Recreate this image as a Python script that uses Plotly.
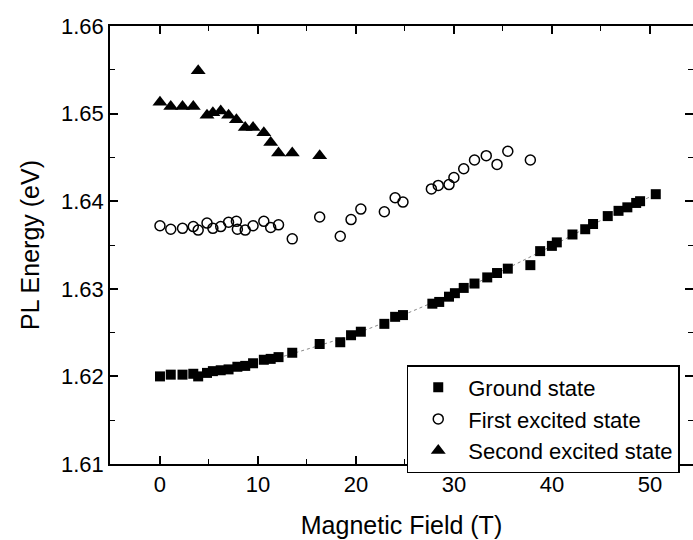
import plotly.graph_objects as go

# Ground state
gs_b = [0, 1.1, 2.3, 3.4, 3.9, 4.8, 5.4, 6.2, 7.0, 7.9, 8.7, 9.5, 10.6, 11.3, 12.1, 13.5,
        16.3, 18.4, 19.5, 20.5, 22.9, 24.0, 24.8, 27.8, 28.5, 29.5, 30.1, 31.0, 32.1, 33.4,
        34.4, 35.5, 37.8, 38.8, 40.0, 40.5, 42.1, 43.4, 44.2, 45.7, 46.8, 47.7, 48.6, 49.0, 50.6]
gs_e = [1.6200, 1.6202, 1.6202, 1.6203, 1.6200, 1.6204, 1.6206, 1.6207, 1.6208, 1.6211,
        1.6212, 1.6215, 1.6219, 1.6220, 1.6222, 1.6227, 1.6237, 1.6239, 1.6247, 1.6251,
        1.6260, 1.6268, 1.6270, 1.6283, 1.6285, 1.6291, 1.6295, 1.6301, 1.6306, 1.6313,
        1.6318, 1.6323, 1.6327, 1.6343, 1.6349, 1.6353, 1.6362, 1.6368, 1.6374, 1.6383,
        1.6389, 1.6393, 1.6398, 1.6400, 1.6408]

# First excited state
fe_b = [0, 1.1, 2.3, 3.4, 3.9, 4.8, 5.4, 6.2, 7.0, 7.8, 7.9, 8.7, 9.5, 10.6, 11.3, 12.1,
        13.5, 16.3, 18.4, 19.5, 20.5, 22.9, 24.0, 24.8, 27.7, 28.4, 29.5, 30.0, 31.0, 32.1,
        33.3, 34.4, 35.5, 37.8]
fe_e = [1.6372, 1.6368, 1.6369, 1.6371, 1.6367, 1.6375, 1.6369, 1.6371, 1.6376, 1.6377,
        1.6368, 1.6367, 1.6372, 1.6377, 1.6370, 1.6373, 1.6357, 1.6382, 1.6360, 1.6379,
        1.6391, 1.6388, 1.6404, 1.6399, 1.6414, 1.6418, 1.6419, 1.6427, 1.6437, 1.6447,
        1.6452, 1.6442, 1.6457, 1.6447]

# Second excited state
se_b = [0, 1.1, 2.3, 3.4, 3.9, 4.8, 5.4, 6.2, 7.0, 7.8, 8.7, 9.5, 10.6, 11.3, 12.1, 13.5, 16.3]
se_e = [1.6513, 1.6508, 1.6508, 1.6508, 1.6549, 1.6498, 1.6501, 1.6503, 1.6498, 1.6493,
        1.6484, 1.6484, 1.6478, 1.6467, 1.6455, 1.6455, 1.6452]

# Fit curve through ground state
fit_b = [0, 5, 10, 15, 20, 25, 30, 35, 40, 45, 50.6]
fit_e = [1.6200, 1.6204, 1.6215, 1.6231, 1.6249, 1.6271, 1.6295, 1.6321, 1.6349, 1.6378, 1.6408]

font = "Liberation Sans, Arial, sans-serif"

fig = go.Figure()
fig.add_trace(go.Scatter(x=fit_b, y=fit_e, mode="lines", line=dict(color="#888888", width=1, dash="dot", shape="spline"),
                         showlegend=False, hoverinfo="skip"))
fig.add_trace(go.Scatter(x=gs_b, y=gs_e, mode="markers", name="Ground state",
                         marker=dict(symbol="square", size=10, color="black")))
fig.add_trace(go.Scatter(x=fe_b, y=fe_e, mode="markers", name="First excited state",
                         marker=dict(symbol="circle-open", size=10, color="black", line=dict(width=1.5))))
fig.add_trace(go.Scatter(x=se_b, y=se_e, mode="markers", name="Second excited state",
                         marker=dict(symbol="triangle-up", size=13, color="black")))

axis_common = dict(showline=True, linecolor="black", linewidth=1.5, mirror="allticks",
                   ticks="inside", ticklen=8, tickwidth=1.5, tickcolor="black",
                   showgrid=False, zeroline=False, automargin=False,
                   tickfont=dict(family=font, size=22, color="black"))

fig.update_xaxes(range=[-5.1, 54.4], dtick=10, tick0=0,
                 minor=dict(ticks="inside", dtick=5, ticklen=5, tickwidth=1.2, tickcolor="black"),
                 title=dict(text="Magnetic Field (T)", font=dict(family=font, size=25, color="black"), standoff=20),
                 **axis_common)
fig.update_yaxes(range=[1.61, 1.66], dtick=0.01, tick0=1.61, tickformat=".2f",
                 minor=dict(ticks="inside", dtick=0.005, ticklen=5, tickwidth=1.2, tickcolor="black"),
                 title=dict(text="PL Energy (eV)", font=dict(family=font, size=25, color="black"), standoff=14),
                 **axis_common)

fig.update_layout(
    width=693, height=540,
    margin=dict(l=110, r=0, t=26, b=76),
    plot_bgcolor="white", paper_bgcolor="white",
    font=dict(family=font, color="black"),
    legend=dict(x=0.509, y=0.226, xanchor="left", yanchor="top",
                bgcolor="white", bordercolor="black", borderwidth=1.5,
                font=dict(family=font, size=22, color="black"),
                tracegroupgap=0, itemsizing="trace", itemwidth=50),
)

fig.write_html("out.html")
